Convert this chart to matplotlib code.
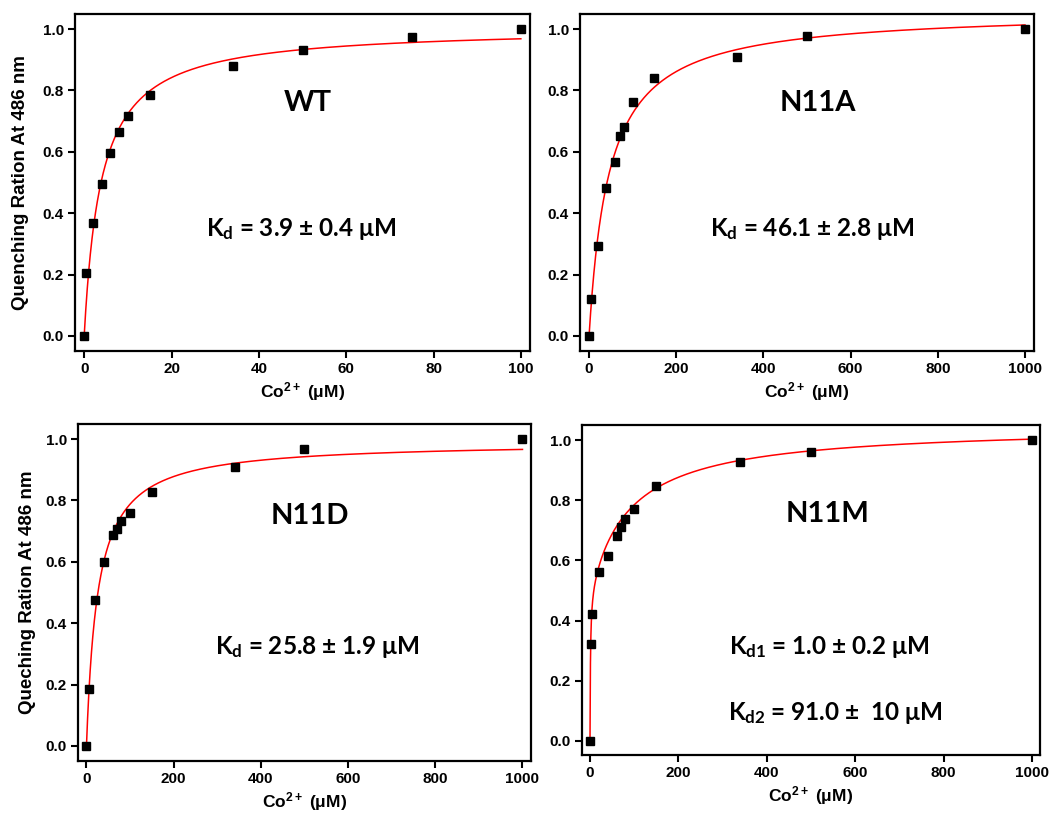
import numpy as np
import matplotlib
matplotlib.use('Agg')
import matplotlib.pyplot as plt

plt.rcParams['font.family'] = ['Liberation Sans', 'DejaVu Sans']
plt.rcParams['mathtext.default'] = 'regular'

# WT data
wt_x = [0, 0.5, 2, 4, 6, 8, 10, 15, 34, 50, 75, 100]
wt_y = [0, 0.204, 0.367, 0.494, 0.595, 0.663, 0.718, 0.786, 0.880, 0.933, 0.974, 1.0]
wt_kd, wt_bmax = 3.9, 1.006

# N11A data
a_x = [0, 5, 20, 40, 60, 70, 80, 100, 150, 340, 500, 1000]
a_y = [0, 0.121, 0.293, 0.483, 0.566, 0.650, 0.681, 0.762, 0.841, 0.909, 0.978, 1.0]
a_kd, a_bmax = 46.1, 1.06

# N11D data
d_x = [0, 5, 20, 40, 60, 70, 80, 100, 150, 340, 500, 1000]
d_y = [0, 0.187, 0.475, 0.598, 0.687, 0.707, 0.733, 0.760, 0.827, 0.909, 0.966, 1.0]
d_kd, d_bmax = 25.8, 0.991

# N11M data (two-site)
m_x = [0, 2, 5, 20, 40, 60, 70, 80, 100, 150, 340, 500, 1000]
m_y = [0, 0.322, 0.421, 0.563, 0.615, 0.681, 0.710, 0.738, 0.771, 0.846, 0.928, 0.961, 1.0]
m_kd1, m_b1 = 1.0, 0.505
m_kd2, m_b2 = 91.0, 0.544

fig = plt.figure(figsize=(10.55, 8.18), dpi=100)

# (x, y, curve, xlim, ylim, axes rect, name, name pos, kd texts with pos, ylabel, labelpad, xticks)
panels = [
    (wt_x, wt_y, lambda x: wt_bmax * x / (wt_kd + x), (-2.1, 102.1), (-0.049, 1.049),
     [0.0711, 0.5709, 0.4313, 0.4120], 'WT', (0.512, 0.736),
     [('K$_{d}$ = 3.9 ± 0.4 μM', 0.497, 0.362)],
     'Quenching Ration At 486 nm', 10, np.arange(0, 101, 20)),
    (a_x, a_y, lambda x: a_bmax * x / (a_kd + x), (-20.7, 1020.7), (-0.049, 1.049),
     [0.5498, 0.5709, 0.4303, 0.4120], 'N11A', (0.523, 0.736),
     [('K$_{d}$ = 46.1 ± 2.8 μM', 0.511, 0.362)],
     None, 0, np.arange(0, 1001, 200)),
    (d_x, d_y, lambda x: d_bmax * x / (d_kd + x), (-19.5, 1019.5), (-0.049, 1.049),
     [0.0739, 0.0697, 0.4294, 0.4120], 'N11D', (0.512, 0.728),
     [('K$_{d}$ = 25.8 ± 1.9 μM', 0.529, 0.337)],
     'Queching Ration At 486 nm', 7, np.arange(0, 1001, 200)),
    (m_x, m_y, lambda x: m_b1 * x / (m_kd1 + x) + m_b2 * x / (m_kd2 + x), (-18, 1018), (-0.047, 1.05),
     [0.5517, 0.0770, 0.4341, 0.4034], 'N11M', (0.536, 0.730),
     [('K$_{d1}$ = 1.0 ± 0.2 μM', 0.539, 0.327), ('K$_{d2}$ = 91.0 ±  10 μM', 0.553, 0.127)],
     None, 0, np.arange(0, 1001, 200)),
]

for xs, ys, curve, xlim, ylim, rect, name, name_pos, kd_texts, ylabel, lpad, xticks in panels:
    ax = fig.add_axes(rect)
    xx = np.linspace(0, max(xs), 2000)
    ax.plot(xx, curve(xx), color='red', lw=1.1, zorder=2)
    ax.plot(xs, ys, 's', color='black', markersize=6, zorder=3)
    ax.set_xlim(*xlim)
    ax.set_ylim(*ylim)
    ax.set_xticks(xticks)
    yt = np.arange(0, 1.01, 0.2)
    ax.set_yticks(yt)
    ax.set_yticklabels(['%.1f' % v for v in yt])
    for sp in ax.spines.values():
        sp.set_linewidth(1.6)
    ax.tick_params(direction='out', length=5, width=1.5, labelsize=11, pad=3)
    for lab in ax.get_xticklabels() + ax.get_yticklabels():
        lab.set_fontweight('bold')
    ax.set_xlabel('Co$^{2+}$ (μM)', fontsize=12.5, fontweight='bold', labelpad=3)
    if ylabel:
        ax.set_ylabel(ylabel, fontsize=13.5, fontweight='bold', labelpad=lpad)
    ax.text(name_pos[0], name_pos[1], name, transform=ax.transAxes, ha='center', va='center',
            fontsize=21, fontweight='bold', family=['Lato', 'DejaVu Sans'])
    for txt, tx, ty in kd_texts:
        ax.text(tx, ty, txt, transform=ax.transAxes, ha='center', va='center',
                fontsize=17.5, fontweight='bold', family=['Lato', 'DejaVu Sans'])

fig.savefig('out.png', dpi=100)
